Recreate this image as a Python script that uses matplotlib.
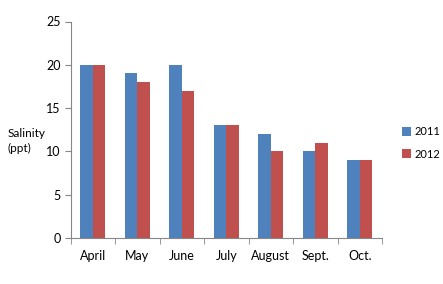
import matplotlib
matplotlib.use("Agg")
import matplotlib.pyplot as plt
import numpy as np

months = ["April", "May", "June", "July", "August", "Sept.", "Oct."]
s2011 = [20, 19, 20, 13, 12, 10, 9]
s2012 = [20, 18, 17, 13, 10, 11, 9]
yticks = [0, 5, 10, 15, 20, 25]

plt.rcParams['font.family'] = ['Lato', 'DejaVu Sans']
fig = plt.figure(figsize=(4.43, 2.84), dpi=100)
W, H = 443, 284
ax = fig.add_axes([70.5 / W, 1 - 238 / H, (382 - 70.5) / W, (238 - 21.5) / H])

x = np.arange(len(months))
bw = 0.285
b1 = ax.bar(x - bw / 2, s2011, bw, color="#4F81BD", label="2011")
b2 = ax.bar(x + bw / 2, s2012, bw, color="#C0504D", label="2012")

fs = 9
ax.set_xlim(-0.5, len(months) - 0.5)
ax.set_ylim(0, 25)
ax.set_yticks(yticks)
ax.set_yticklabels([str(v) for v in yticks], fontsize=fs)
ax.set_xticks(x)
ax.set_xticklabels(months, fontsize=fs)
ax.tick_params(axis='x', length=0, pad=9)
ax.set_xticks(np.arange(-0.5, len(months)), minor=True)
ax.tick_params(axis='x', which='minor', length=4, color="#868686", direction='out')
ax.tick_params(axis='y', length=4, color="#868686", pad=3)
for s in ["top", "right"]:
    ax.spines[s].set_visible(False)
for s in ["left", "bottom"]:
    ax.spines[s].set_color("#868686")
    ax.spines[s].set_linewidth(0.8)

fig.text(8 / W, 1 - 141 / H, "Salinity\n(ppt)", fontsize=8.5, ha="left", va="center", linespacing=1.5)

fig.legend(handles=[b1, b2], loc="center left", bbox_to_anchor=(402 / W, 1 - 143 / H),
           frameon=False, fontsize=8, handlelength=0.8, handleheight=0.8,
           handletextpad=0.3, labelspacing=1.0, borderpad=0, borderaxespad=0)

fig.savefig("out.png", dpi=100)
